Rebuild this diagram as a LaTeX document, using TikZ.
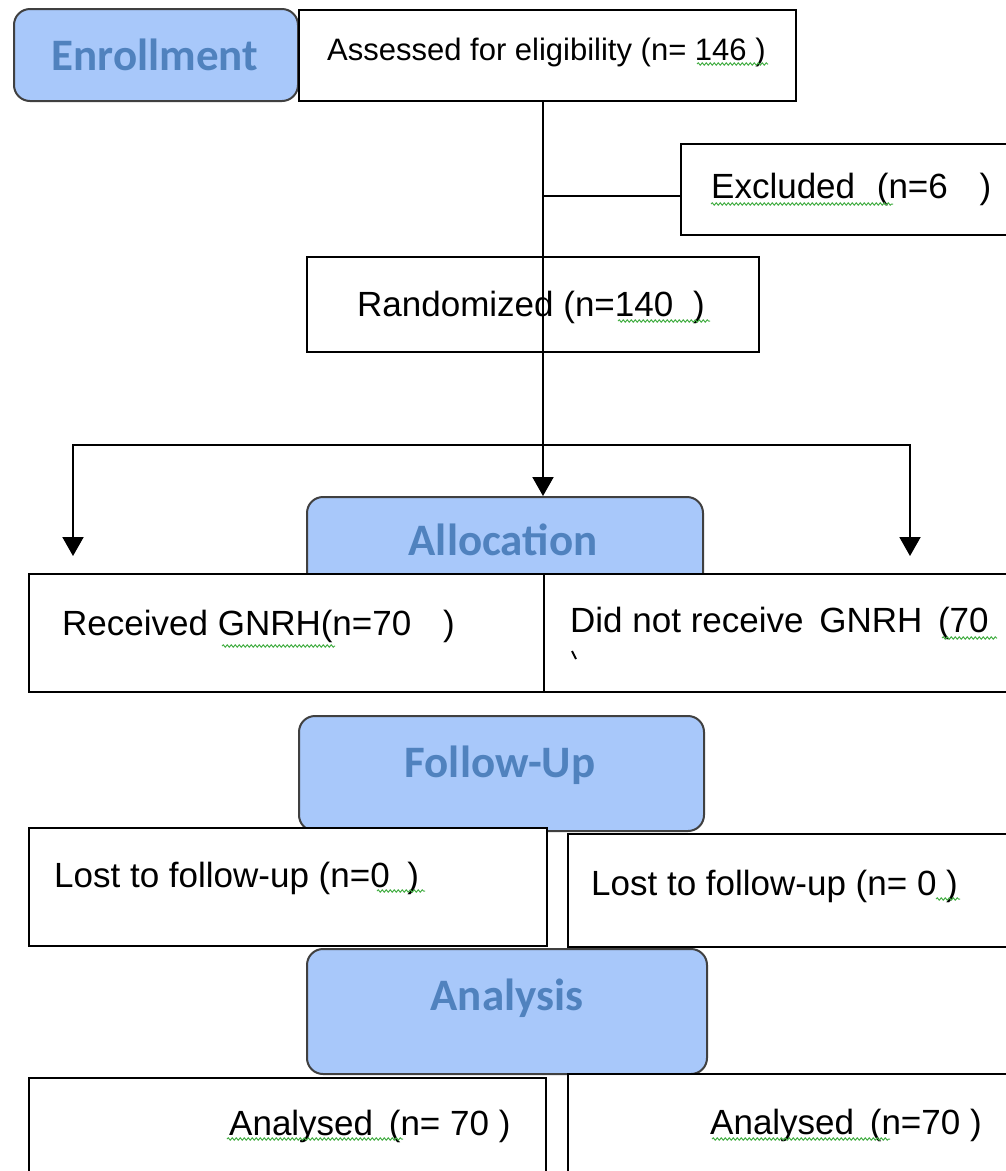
\documentclass[tikz,border=0pt]{standalone}
\usepackage{fontspec}
\setmainfont{Liberation Sans}
\newfontfamily\hdrfont{Carlito}
\usetikzlibrary{arrows.meta,decorations.pathmorphing}
\definecolor{hdrfill}{RGB}{168,200,250}
\definecolor{hdrtext}{RGB}{80,130,190}
\definecolor{hdrline}{RGB}{64,64,64}
\definecolor{squig}{RGB}{70,175,70}
\begin{document}
\begin{tikzpicture}[x=1pt,y=-1pt,
  box/.style={draw=black, line width=2pt, fill=white, inner sep=0pt, anchor=north west},
  hdr/.style={draw=hdrline, line width=2pt, fill=hdrfill, rounded corners=16pt, inner sep=0pt, anchor=north west},
  hdrlabel/.style={font=\hdrfont\bfseries\fontsize{45}{50}\selectfont, text=hdrtext, inner sep=0pt, anchor=base},
  txt/.style={font=\fontsize{35}{40}\selectfont, inner sep=0pt, anchor=base west},
  small/.style={font=\fontsize{31}{36}\selectfont},
  conn/.style={line width=2pt},
  arr/.style={line width=2pt, -{Triangle[width=21pt,length=19pt]}},
  spell/.style={draw=squig, line width=1pt, decorate, decoration={snake, amplitude=1.2pt, segment length=4pt}}
]
\useasboundingbox (0,0) rectangle (1006,1171);
\clip (0,0) rectangle (1006,1171);
\fill[white] (0,0) rectangle (1006,1171);

% boxes
\node[hdr, minimum width=284pt, minimum height=92pt] (enroll) at (13,8) {};
\node[box, minimum width=497pt, minimum height=91pt] (assess) at (298,9) {};
\node[box, minimum width=360pt, minimum height=91pt] (excl) at (680,143) {};
\node[box, minimum width=452pt, minimum height=95pt] (rand) at (306,256) {};
\node[hdr, minimum width=396pt, minimum height=110pt] (alloc) at (306,496) {};
\node[box, minimum width=516pt, minimum height=118pt] (recv) at (28,573) {};
\node[box, minimum width=500pt, minimum height=118pt] (norecv) at (543,573) {};
\node[hdr, minimum width=405pt, minimum height=115pt] (follow) at (298,715) {};
\node[box, minimum width=518pt, minimum height=118pt] (lostL) at (28,827) {};
\node[box, minimum width=480pt, minimum height=113pt] (lostR) at (567,833) {};
\node[hdr, minimum width=400pt, minimum height=125pt] (analysis) at (306,948) {};
\node[box, minimum width=517pt, minimum height=150pt] (anaL) at (28,1077) {};
\node[box, minimum width=480pt, minimum height=150pt] (anaR) at (567,1073) {};

% header labels
\node[hdrlabel] (tenroll) at (155,70) {Enrollment};
\node[hdrlabel] (talloc) at (503,555) {Allocation};
\node[hdrlabel] (tfollow) at (500,777) {Follow-Up};
\node[hdrlabel] (tanalysis) at (507,1010) {Analysis};

% texts
\node[txt, small] (tassess) at (327,60) {Assessed for eligibility (n= 146 )};
\node[txt] (texcl) at (711,198) {Excluded\hspace{12pt} (n=6\hspace{22pt} )};
\node[txt] (trand) at (357,316) {Randomized (n=140\hspace{10pt} )};
\node[txt] (trecv) at (62,635) {Received GNRH(n=70\hspace{22pt} )};
\node[txt] (tnorecv) at (570,632) {Did not receive\hspace{6pt} GNRH\hspace{6pt} (70};
\draw[line width=2pt] (572,651) -- (576,659);
\node[txt] (tlostL) at (54,887) {Lost to follow-up (n=0\hspace{8pt} )};
\node[txt] (tlostR) at (591,895) {Lost to follow-up (n= 0 )};
\node[txt] (tanaL) at (229,1135) {Analysed\hspace{6pt} (n= 70 )};
\node[txt] (tanaR) at (710,1134) {Analysed\hspace{6pt} (n=70 )};

% spelling squiggles
\path[spell] (697,64) -- (768,64);
\path[spell] (711,204) -- (893,204);
\path[spell] (618,321) -- (710,321);
\path[spell] (222,646) -- (335,646);
\path[spell] (942,638) -- (997,638);
\path[spell] (377,891) -- (425,891);
\path[spell] (936,899) -- (960,899);
\path[spell] (227,1139) -- (403,1139);
\path[spell] (712,1139) -- (890,1139);

% connectors
\coordinate (tx) at (543,0);
\coordinate (split) at (543,445);
\coordinate (la) at (73,556);
\coordinate (ra) at (910,556);
\draw[arr] (assess.south -| tx) -- (alloc.north -| tx);
\draw[conn] ([yshift=-6pt]excl.west -| tx) -- ([yshift=-6pt]excl.west);
\draw[arr] (split) -| (la);
\draw[arr] (split) -| (ra);
\end{tikzpicture}
\end{document}
